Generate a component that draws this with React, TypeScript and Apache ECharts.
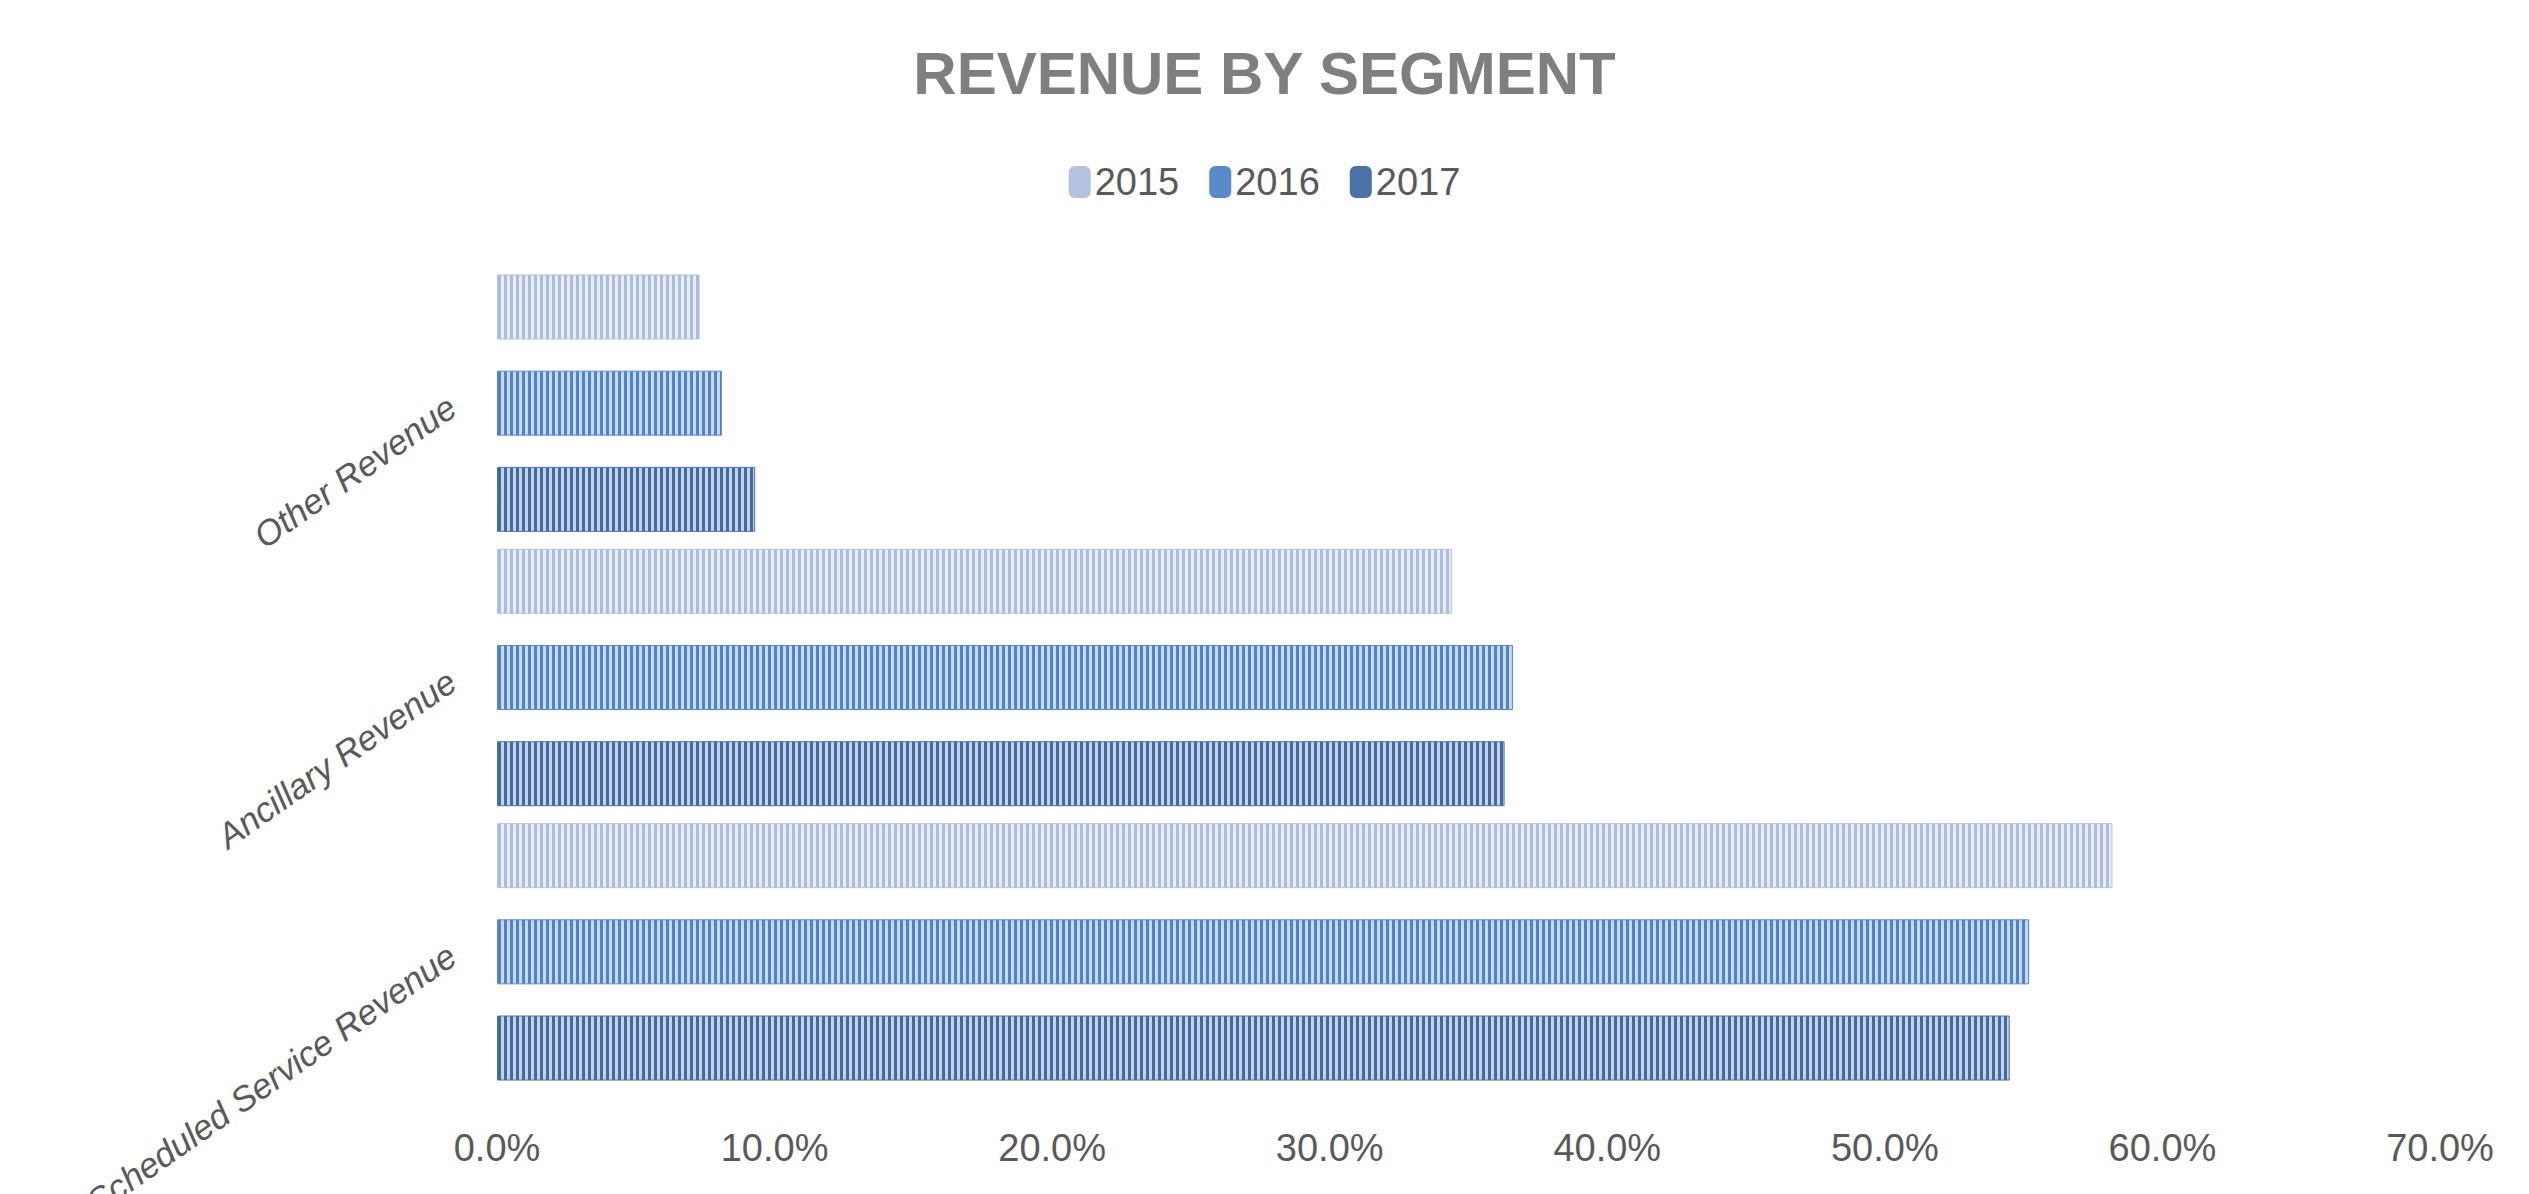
import React, { useEffect, useRef } from "react";
import * as echarts from "echarts";

const categories = ["Other Revenue", "Ancillary Revenue", "Scheduled Service Revenue"];
const seriesNames = ["2015", "2016", "2017"];
const values2015 = [7.3, 34.4, 58.2];
const values2016 = [8.1, 36.6, 55.2];
const values2017 = [9.3, 36.3, 54.5];
const xTicks = [0, 10, 20, 30, 40, 50, 60, 70];

function stripe(dark: string, light: string): string {
  const c = document.createElement("canvas");
  c.width = 6;
  c.height = 6;
  const ctx = c.getContext("2d")!;
  ctx.fillStyle = light;
  ctx.fillRect(0, 0, 6, 6);
  ctx.fillStyle = dark;
  ctx.fillRect(0, 0, 3, 6);
  return c.toDataURL();
}

export default function App() {
  const ref = useRef<HTMLDivElement>(null);
  useEffect(() => {
    document.body.style.margin = "0";
    const chart = echarts.init(ref.current!, null, { renderer: "svg" });
    const fills = [
      stripe("#aebcdc", "#e8edf7"),
      stripe("#4f83c4", "#c9d9ee"),
      stripe("#426a9e", "#c6d3e6"),
    ];
    const legendColors = ["#b4c2e0", "#5a8bc8", "#4a72a6"];
    const data = [values2015, values2016, values2017];
    chart.setOption({
      animation: false,
      title: {
        text: "REVENUE BY SEGMENT",
        left: "center",
        top: 38,
        textStyle: { fontFamily: "Liberation Sans", fontWeight: "bold", fontSize: 60, color: "#7f7f7f" },
      },
      legend: {
        data: seriesNames.map((n, i) => ({ name: n, itemStyle: { color: legendColors[i] } })),
        top: 158,
        left: "center",
        itemWidth: 20,
        itemHeight: 30,
        itemGap: 30,
        textStyle: { fontFamily: "Liberation Sans", fontSize: 38, color: "#595959" },
      },
      grid: { left: 497, right: 89, top: 266, bottom: 105, outerBoundsMode: "none", containLabel: false },
      xAxis: {
        type: "value",
        min: 0,
        max: 70,
        interval: 10,
        splitLine: { show: false },
        axisLine: { show: false },
        axisTick: { show: false },
        axisLabel: {
          margin: 40,
          fontFamily: "Liberation Sans",
          fontSize: 38,
          color: "#595959",
          formatter: (v: number) => (xTicks.includes(v) ? v.toFixed(1) + "%" : ""),
        },
      },
      yAxis: {
        type: "category",
        data: categories,
        inverse: true,
        axisLine: { show: false },
        axisTick: { show: false },
        axisLabel: {
          rotate: 35,
          margin: 45,
          fontFamily: "Liberation Sans",
          fontStyle: "italic",
          fontSize: 35,
          color: "#595959",
        },
      },
      series: seriesNames.map((n, i) => ({
        name: n,
        type: "bar",
        data: data[i],
        barWidth: 65,
        barGap: "48%",
        itemStyle: {
          color: { image: fills[i], repeat: "repeat" },
          borderColor: legendColors[i],
          borderWidth: 1,
        },
      })),
    });
    return () => chart.dispose();
  }, []);
  return <div ref={ref} style={{ width: 2529, height: 1194 }} />;
}
